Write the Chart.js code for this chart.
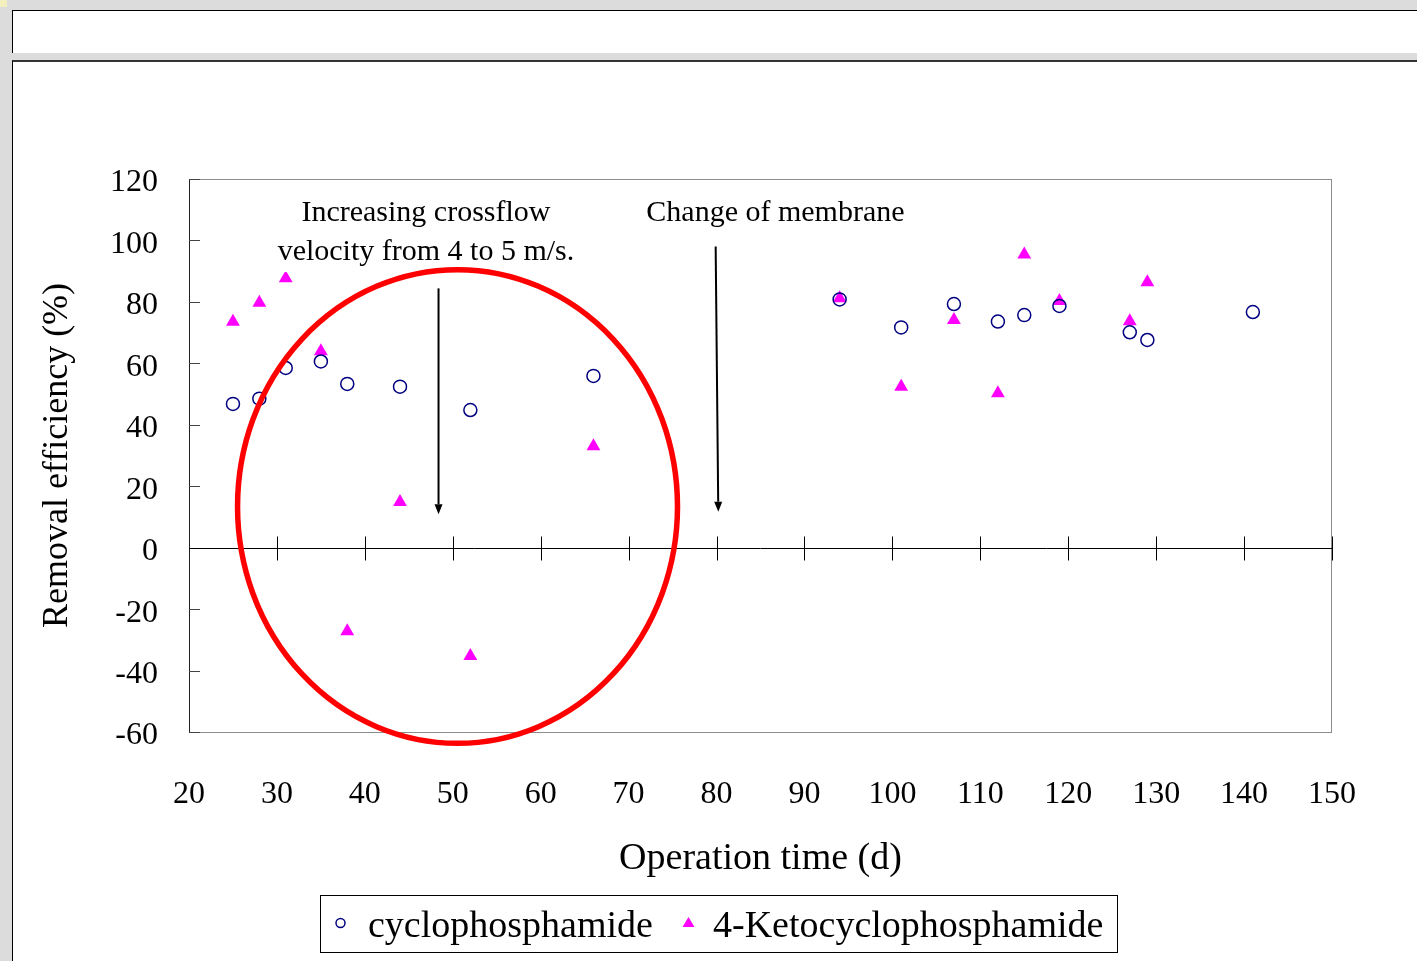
<!DOCTYPE html>
<html>
<head>
<meta charset="utf-8">
<script src="https://cdn.jsdelivr.net/npm/chart.js@4/dist/chart.umd.min.js"></script>
<style>
  html, body { margin:0; padding:0; }
  body { width:1417px; height:961px; background:#dcdcdc; position:relative; overflow:hidden; }
  #corner { position:absolute; left:0; top:0; width:7px; height:7px; background:#f3efbf; }
  #panel1 { position:absolute; left:12px; top:10px; width:1405px; height:42px; background:#fff;
            border-top:1px solid #000; border-left:1px solid #000; }
  #panel2 { position:absolute; left:12px; top:60px; width:1405px; height:901px; background:#fff;
            border-top:2px solid #333; border-left:1px solid #000; }
  #c { position:absolute; left:0; top:0; }
</style>
</head>
<body>
<div id="corner"></div>
<div id="panel1"></div>
<div id="panel2"></div>
<canvas id="c" width="1417" height="961"></canvas>
<script>
// ---- data ----
const daysCyclo = [25, 28, 31, 35, 38, 44, 52, 66, 94, 101, 107, 112, 115, 119, 127, 129, 141];
const cyclophosphamide = [46.8, 48.5, 58.5, 60.6, 53.3, 52.4, 44.8, 55.9, 80.8, 71.7, 79.3, 73.6, 75.7, 78.7, 70.1, 67.6, 76.7];
const daysKeto = [25, 28, 31, 35, 38, 44, 52, 66, 94, 101, 107, 112, 115, 119, 127, 129];
const ketocyclophosphamide = [73.5, 79.7, 87.7, 63.9, -27.2, 14.9, -35.3, 33.0, 81.2, 52.4, 74.1, 50.3, 95.4, 80.3, 73.7, 86.4];
const seriesNames = ['cyclophosphamide', '4-Ketocyclophosphamide'];
const xTitle = 'Operation time (d)';
const yTitle = 'Removal efficiency (%)';
const note1Lines = ['Increasing crossflow', 'velocity from 4 to 5 m/s.'];
const note2Lines = ['Change of membrane'];

// annotation geometry in data units
const notes = [
  { x: 46.95, ys: [106.3, 93.6], lines: note1Lines, box: true },
  { x: 86.7, ys: [106.4], lines: note2Lines, box: false }
];
const arrows = [
  { x1: 48.38, y1: 84.4, x2: 48.38, y2: 10.9 },
  { x1: 79.9, y1: 98.0, x2: 80.2, y2: 11.7 }
];
const ellipse = { cx: 50.54, cy: 13.4, rx: 25.02, ry: 77.1 };

const FONT = '"Liberation Serif", "Times New Roman", serif';
const CYCLO_COLOR = '#000080';
const KETO_COLOR = '#ff00ff';

const toPts = (xs, ys) => xs.map((x, i) => ({ x: x, y: ys[i] }));

const decor = {
  id: 'decor',
  beforeDatasetsDraw(chart) {
    const { ctx, chartArea: a, scales: { x, y } } = chart;
    ctx.save();
    // plot frame
    ctx.strokeStyle = '#8c8c8c';
    ctx.lineWidth = 1;
    ctx.strokeRect(a.left + 0.5, a.top + 0.5, a.right - a.left - 1, a.bottom - a.top);
    ctx.strokeStyle = '#222';
    ctx.beginPath();
    ctx.moveTo(a.left + 0.5, a.top); ctx.lineTo(a.left + 0.5, a.bottom + 1);
    ctx.stroke();
    // y ticks (inward)
    ctx.strokeStyle = '#444';
    for (let v = -60; v <= 120; v += 20) {
      const py = Math.round(y.getPixelForValue(v)) + 0.5;
      ctx.beginPath(); ctx.moveTo(a.left, py); ctx.lineTo(a.left + 11, py); ctx.stroke();
    }
    // zero axis with crossing ticks
    const y0 = Math.round(y.getPixelForValue(0)) + 0.5;
    ctx.strokeStyle = '#000';
    ctx.beginPath(); ctx.moveTo(a.left, y0); ctx.lineTo(a.right, y0); ctx.stroke();
    for (let v = 30; v <= 150; v += 10) {
      const px = Math.round(x.getPixelForValue(v)) + 0.5;
      ctx.beginPath(); ctx.moveTo(px, y0 - 12); ctx.lineTo(px, y0 + 12); ctx.stroke();
    }
    ctx.restore();
  },
  afterDatasetsDraw(chart) {
    const { ctx, scales: { x, y } } = chart;
    ctx.save();
    // notes
    ctx.font = '30px ' + FONT;
    ctx.fillStyle = '#000';
    ctx.textAlign = 'center';
    ctx.textBaseline = 'alphabetic';
    notes.forEach(n => {
      const px = x.getPixelForValue(n.x);
      if (n.box) {
        let w = 0;
        n.lines.forEach(t => { w = Math.max(w, ctx.measureText(t).width); });
        const top = y.getPixelForValue(n.ys[0]) - 26;
        const bot = y.getPixelForValue(n.ys[n.ys.length - 1]) + 12;
        ctx.fillStyle = '#fff';
        ctx.fillRect(px - w / 2 - 4, top, w + 8, bot - top);
        ctx.fillStyle = '#000';
      }
      n.lines.forEach((t, i) => ctx.fillText(t, px, y.getPixelForValue(n.ys[i])));
    });
    // arrows
    ctx.strokeStyle = '#000';
    ctx.fillStyle = '#000';
    ctx.lineWidth = 2;
    arrows.forEach(ar => {
      const x1 = x.getPixelForValue(ar.x1), y1 = y.getPixelForValue(ar.y1);
      const x2 = x.getPixelForValue(ar.x2), y2 = y.getPixelForValue(ar.y2);
      const ang = Math.atan2(y2 - y1, x2 - x1);
      const L = 10, W = 4;
      const bx = x2 - L * Math.cos(ang), by = y2 - L * Math.sin(ang);
      ctx.beginPath(); ctx.moveTo(x1, y1); ctx.lineTo(bx, by); ctx.stroke();
      ctx.beginPath();
      ctx.moveTo(x2, y2);
      ctx.lineTo(bx + W * Math.sin(ang), by - W * Math.cos(ang));
      ctx.lineTo(bx - W * Math.sin(ang), by + W * Math.cos(ang));
      ctx.closePath(); ctx.fill();
    });
    // red ellipse
    const cx = x.getPixelForValue(ellipse.cx), cy = y.getPixelForValue(ellipse.cy);
    const rx = Math.abs(x.getPixelForValue(ellipse.cx + ellipse.rx) - cx);
    const ry = Math.abs(y.getPixelForValue(ellipse.cy + ellipse.ry) - cy);
    ctx.strokeStyle = '#ff0000';
    ctx.lineWidth = 5.5;
    ctx.beginPath(); ctx.ellipse(cx, cy, rx, ry, 0, 0, Math.PI * 2); ctx.stroke();
    ctx.restore();
  },
  afterDraw(chart) {
    const { ctx } = chart;
    ctx.save();
    // legend box
    ctx.fillStyle = '#fff';
    ctx.fillRect(320, 895, 797, 57);
    ctx.strokeStyle = '#000';
    ctx.lineWidth = 1;
    ctx.strokeRect(320.5, 895.5, 797, 57);
    // markers
    ctx.strokeStyle = CYCLO_COLOR; ctx.lineWidth = 1.5;
    ctx.beginPath(); ctx.arc(340.5, 923, 4.5, 0, Math.PI * 2); ctx.stroke();
    ctx.fillStyle = KETO_COLOR;
    ctx.beginPath(); ctx.moveTo(688.5, 917); ctx.lineTo(694.5, 927); ctx.lineTo(682.5, 927); ctx.closePath(); ctx.fill();
    // texts
    ctx.fillStyle = '#000';
    ctx.font = '38px ' + FONT;
    ctx.textAlign = 'left'; ctx.textBaseline = 'alphabetic';
    ctx.fillText(seriesNames[0], 368, 937);
    ctx.fillText(seriesNames[1], 713, 937);
    ctx.restore();
  }
};

new Chart(document.getElementById('c'), {
  type: 'scatter',
  data: {
    datasets: [
      { label: seriesNames[0], data: toPts(daysCyclo, cyclophosphamide), pointStyle: 'circle',
        pointRadius: 6.5, pointHoverRadius: 6.5, borderWidth: 1.5, borderColor: CYCLO_COLOR,
        backgroundColor: 'rgba(0,0,0,0)' },
      { label: seriesNames[1], data: toPts(daysKeto, ketocyclophosphamide), pointStyle: 'triangle',
        pointRadius: 8, pointHoverRadius: 8, borderWidth: 0, borderColor: KETO_COLOR,
        backgroundColor: KETO_COLOR }
    ]
  },
  options: {
    responsive: false,
    animation: false,
    events: [],
    layout: { padding: { top: 179, right: 85, bottom: 0, left: 0 } },
    plugins: { legend: { display: false }, tooltip: { enabled: false } },
    scales: {
      x: {
        type: 'linear', min: 20, max: 150,
        afterFit: s => { s.height = 229; },
        grid: { display: false, drawTicks: false },
        border: { display: false },
        ticks: { stepSize: 10, padding: 43, color: '#000', maxRotation: 0, autoSkip: false,
                 font: { family: FONT, size: 32 } },
        title: { display: true, text: xTitle, color: '#000', font: { family: FONT, size: 38 },
                 padding: { top: 0, bottom: 79 } }
      },
      y: {
        min: -60, max: 120,
        afterFit: s => { s.width = 189; },
        grid: { display: false, drawTicks: false },
        border: { display: false },
        ticks: { stepSize: 20, padding: 31, labelOffset: 4, color: '#000', font: { family: FONT, size: 32 } },
        title: { display: true, text: yTitle, color: '#000', font: { family: FONT, size: 36 },
                 padding: { top: 36, bottom: 0 } }
      }
    }
  },
  plugins: [decor]
});
</script>
</body>
</html>
